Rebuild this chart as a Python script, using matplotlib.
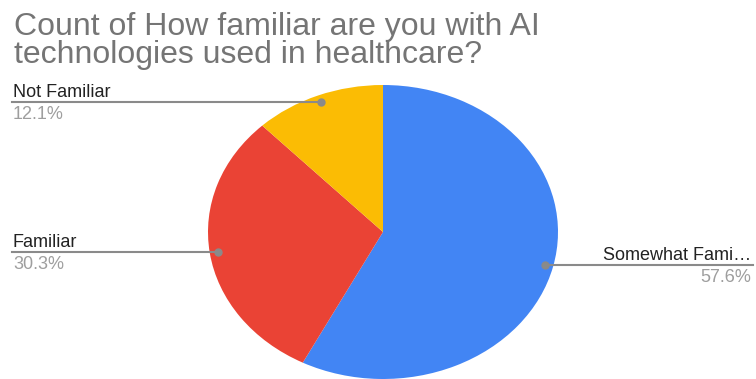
import matplotlib.pyplot as plt
import numpy as np

plt.rcParams['font.family'] = ['Liberation Sans', 'DejaVu Sans']

title_lines = ['Count of How familiar are you with AI',
               'technologies used in healthcare?']
labels = ['Somewhat Fami\u2026', 'Familiar', 'Not Familiar']
counts = [19, 10, 4]
colors = ['#4285f4', '#ea4335', '#fbbc04']

W, H = 756, 379
fig = plt.figure(figsize=(W / 100, H / 100), dpi=100)


def fy(py):
    return 1 - py / H


# pie box in pixels (stretched horizontally like the reference)
px0, px1, py0, py1 = 208, 558, 85, 379
ax = fig.add_axes([px0 / W, fy(py1), (px1 - px0) / W, (py1 - py0) / H])
wedges, _ = ax.pie(counts, colors=colors, startangle=90, counterclock=False,
                   wedgeprops=dict(linewidth=0))
ax.set_aspect('auto')
ax.set_xlim(-1, 1)
ax.set_ylim(-1, 1)
ax.axis('off')

for line, base in zip(title_lines, [35, 63]):
    fig.text(14 / W, fy(base), line, fontsize=23, color='#757575',
             ha='left', va='baseline')

total = sum(counts)
for i, w in enumerate(wedges):
    mid = np.deg2rad((w.theta1 + w.theta2) / 2)
    dx, dy = 0.95 * np.cos(mid), 0.95 * np.sin(mid)
    # dot position in figure pixels
    x = px0 + (dx + 1) / 2 * (px1 - px0)
    y = py0 + (1 - dy) / 2 * (py1 - py0)
    if dx > 0:
        tx, ha, lend = 751, 'right', 753
    else:
        tx, ha, lend = 13, 'left', 12
    fig.add_artist(plt.Line2D([x / W, lend / W], [fy(y), fy(y)], color='#8a8a8a',
                              linewidth=1.5, transform=fig.transFigure))
    fig.add_artist(plt.Line2D([x / W], [fy(y)], marker='o', markersize=5,
                              color='#8a8a8a', transform=fig.transFigure))
    pct = '{:.1f}%'.format(100 * counts[i] / total)
    fig.text(tx / W, fy(y - 5), labels[i], fontsize=13, color='#222222',
             ha=ha, va='baseline')
    fig.text(tx / W, fy(y + 17), pct, fontsize=13, color='#9e9e9e',
             ha=ha, va='baseline')

fig.savefig('out.png', dpi=100, facecolor='white')
